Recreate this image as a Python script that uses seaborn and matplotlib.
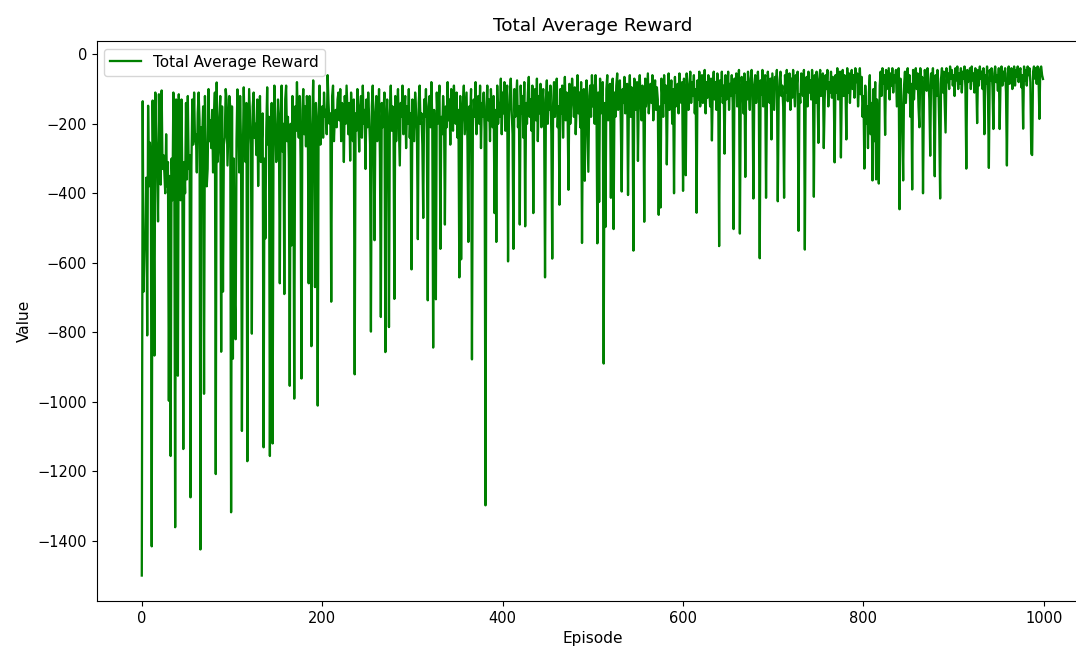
import matplotlib
matplotlib.use("Agg")
import matplotlib.pyplot as plt
import numpy as np
import seaborn as sns

# reward per episode in blocks of 200 episodes
rewards_0_199 = [
    -1500, -135, -683, -548, -560, -355, -809, -148, -380, -254,
    -300, -1416, -133, -420, -867, -110, -250, -320, -481, -115,
    -260, -375, -104, -330, -290, -340, -400, -230, -380, -310,
    -997, -350, -1156, -300, -420, -110, -280, -1361, -130, -400,
    -925, -115, -350, -420, -130, -380, -1136, -310, -400, -140,
    -360, -120, -330, -290, -1275, -320, -130, -260, -110, -250,
    -230, -340, -170, -110, -190, -1425, -210, -240, -150, -977,
    -120, -290, -380, -330, -100, -250, -190, -270, -160, -340,
    -200, -110, -1208, -81, -310, -270, -180, -120, -856, -150,
    -683, -260, -240, -100, -130, -320, -220, -120, -150, -1318,
    -150, -876, -300, -702, -820, -250, -101, -180, -340, -120,
    -260, -1084, -300, -95, -220, -310, -140, -1171, -280, -100,
    -180, -260, -804, -150, -110, -240, -200, -290, -130, -379,
    -210, -120, -310, -250, -170, -1131, -300, -530, -220, -95,
    -260, -180, -1156, -300, -140, -1120, -250, -90, -200, -310,
    -290, -130, -220, -659, -170, -90, -280, -200, -690, -130,
    -90, -250, -180, -300, -954, -200, -550, -120, -260, -991,
    -150, -220, -80, -190, -240, -120, -300, -933, -160, -100,
    -230, -150, -265, -120, -180, -659, -120, -300, -840, -200,
    -75, -250, -670, -140, -220, -1011, -180, -90, -260, -200,
]
rewards_200_399 = [
    -150, -240, -110, -180, -160, -230, -60, -140, -200, -170,
    -712, -120, -90, -250, -180, -160, -210, -130, -110, -190,
    -100, -250, -140, -180, -310, -120, -200, -90, -160, -230,
    -140, -306, -110, -190, -250, -130, -921, -170, -220, -100,
    -180, -280, -150, -120, -240, -90, -200, -160, -330, -130,
    -210, -110, -180, -260, -798, -150, -90, -230, -535, -170,
    -120, -250, -190, -100, -300, -756, -140, -210, -160, -110,
    -857, -200, -130, -240, -785, -170, -90, -220, -150, -190,
    -704, -120, -250, -160, -100, -210, -320, -140, -180, -90,
    -230, -160, -120, -270, -150, -200, -100, -240, -170, -619,
    -130, -190, -250, -110, -160, -220, -532, -140, -90, -200,
    -170, -260, -471, -130, -180, -100, -230, -708, -150, -120,
    -210, -80, -190, -844, -160, -240, -705, -110, -200, -140,
    -90, -560, -180, -230, -120, -170, -490, -150, -210, -80,
    -190, -130, -260, -100, -170, -220, -90, -150, -200, -110,
    -240, -160, -642, -120, -590, -200, -140, -90, -230, -170,
    -110, -250, -540, -150, -190, -100, -878, -210, -130, -180,
    -80, -230, -160, -120, -200, -90, -270, -140, -180, -110,
    -220, -1298, -150, -90, -190, -130, -250, -100, -170, -210,
    -120, -457, -160, -540, -90, -200, -140, -180, -70, -230,
]
rewards_400_599 = [
    -110, -170, -80, -220, -140, -90, -596, -190, -120, -70,
    -160, -230, -560, -100, -180, -130, -75, -210, -150, -490,
    -90, -170, -120, -240, -80, -495, -140, -200, -110, -65,
    -180, -130, -220, -90, -457, -150, -100, -190, -70, -250,
    -120, -170, -85, -210, -140, -100, -190, -642, -130, -75,
    -200, -110, -160, -90, -230, -588, -140, -80, -180, -120,
    -70, -210, -150, -433, -100, -170, -90, -240, -130, -65,
    -190, -110, -160, -390, -85, -200, -140, -70, -120, -180,
    -95, -230, -150, -60, -170, -110, -210, -80, -543, -140,
    -100, -364, -160, -75, -200, -338, -120, -90, -180, -60,
    -150, -90, -200, -60, -130, -544, -110, -425, -70, -170,
    -120, -80, -890, -140, -497, -100, -60, -190, -130, -85,
    -413, -150, -70, -503, -110, -180, -90, -55, -160, -120,
    -75, -200, -395, -100, -140, -65, -170, -110, -85, -405,
    -130, -60, -180, -95, -150, -565, -70, -120, -160, -80,
    -307, -110, -60, -140, -190, -90, -130, -482, -70, -150,
    -100, -55, -170, -120, -85, -140, -60, -190, -110, -75,
    -160, -95, -130, -462, -150, -441, -70, -120, -180, -60,
    -140, -90, -317, -110, -55, -160, -130, -75, -200, -100,
    -400, -65, -150, -120, -85, -170, -55, -110, -140, -80,
]
rewards_600_799 = [
    -393, -70, -130, -348, -55, -110, -160, -90, -50, -140,
    -80, -120, -60, -170, -100, -456, -75, -130, -50, -150,
    -90, -60, -140, -110, -45, -170, -80, -125, -60, -100,
    -150, -70, -248, -95, -50, -130, -80, -160, -55, -110,
    -552, -75, -120, -50, -140, -90, -286, -60, -130, -100,
    -50, -160, -85, -120, -60, -140, -503, -70, -110, -55,
    -150, -90, -45, -516, -120, -65, -100, -170, -55, -353,
    -80, -130, -50, -110, -160, -70, -45, -120, -415, -90,
    -60, -140, -100, -50, -130, -587, -75, -115, -45, -150,
    -85, -60, -413, -125, -50, -100, -140, -70, -245, -55,
    -110, -160, -65, -95, -45, -423, -130, -75, -50, -120,
    -90, -150, -413, -60, -110, -45, -135, -80, -55, -160,
    -70, -125, -45, -100, -150, -60, -90, -50, -508, -115,
    -140, -55, -80, -120, -45, -562, -100, -65, -150, -50,
    -110, -75, -130, -45, -90, -410, -60, -140, -50, -100,
    -255, -70, -45, -120, -90, -55, -270, -130, -60, -100,
    -45, -150, -80, -110, -50, -125, -65, -90, -311, -60,
    -110, -40, -130, -75, -50, -297, -95, -45, -120, -60,
    -85, -245, -40, -110, -55, -140, -70, -45, -100, -60,
    -125, -40, -80, -55, -150, -90, -40, -115, -65, -180,
]
rewards_800_999 = [
    -120, -329, -90, -200, -150, -270, -110, -60, -230, -140,
    -363, -100, -250, -80, -360, -130, -200, -372, -90, -50,
    -120, -40, -85, -60, -232, -45, -100, -70, -40, -130,
    -55, -90, -40, -110, -60, -80, -45, -150, -95, -40,
    -446, -70, -120, -200, -363, -90, -50, -140, -75, -40,
    -110, -60, -180, -85, -389, -45, -130, -70, -40, -100,
    -55, -150, -210, -40, -90, -65, -400, -120, -45, -80,
    -105, -40, -70, -130, -292, -55, -95, -40, -160, -351,
    -60, -120, -45, -85, -210, -415, -70, -40, -110, -50,
    -140, -225, -40, -80, -55, -100, -35, -70, -45, -90,
    -60, -120, -40, -75, -35, -100, -55, -85, -40, -110,
    -50, -70, -35, -95, -329, -45, -80, -60, -40, -100,
    -35, -75, -55, -110, -40, -65, -198, -45, -90, -35,
    -70, -50, -100, -40, -230, -60, -85, -35, -120, -327,
    -45, -75, -40, -95, -215, -55, -35, -80, -60, -105,
    -40, -215, -70, -35, -90, -50, -75, -40, -110, -320,
    -55, -35, -85, -60, -40, -100, -70, -35, -90, -45,
    -65, -35, -80, -50, -40, -95, -60, -214, -35, -75,
    -45, -90, -35, -60, -40, -80, -286, -290, -50, -35,
    -70, -40, -85, -35, -55, -186, -40, -35, -60, -71,
]

rewards = rewards_0_199 + rewards_200_399 + rewards_400_599 + rewards_600_799 + rewards_800_999
episodes = np.arange(len(rewards))

plt.rcParams["xtick.labelsize"] = 10.5
plt.rcParams["ytick.labelsize"] = 10.5

fig = plt.figure(figsize=(10.76, 6.5), dpi=100)
ax = fig.add_axes([0.0899, 0.0754, 0.9213, 0.8615])

sns.lineplot(x=episodes, y=rewards, color="green", linewidth=1.65,
             label="Total Average Reward", ax=ax)
ax.set_title("Total Average Reward", fontsize=13.3, pad=7)
ax.set_xlabel("Episode", fontsize=11.1)
ax.set_ylabel("Value", fontsize=11.1)
ax.legend(loc="upper left", fontsize=11)

fig.savefig("out.png", dpi=100)
